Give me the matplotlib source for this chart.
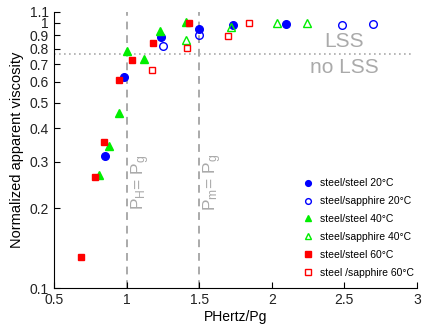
import numpy as np
import matplotlib.pyplot as plt

plt.rcParams['font.family'] = ['Liberation Sans', 'DejaVu Sans']
plt.rcParams['mathtext.default'] = 'regular'

# data (PHertz/Pg, normalized viscosity)
ss20_x = [0.852, 0.985, 1.24, 1.502, 1.73, 2.098]
ss20_y = [0.316, 0.626, 0.883, 0.949, 0.98, 0.994]
sa20_x = [1.254, 1.502, 2.484, 2.696]
sa20_y = [0.819, 0.897, 0.983, 0.988]
ss40_x = [0.812, 0.881, 0.95, 1.001, 1.123, 1.231, 1.41]
ss40_y = [0.267, 0.343, 0.456, 0.784, 0.731, 0.933, 1.006]
sa40_x = [1.41, 1.72, 2.036, 2.24]
sa40_y = [0.862, 0.963, 0.999, 1.0]
ss60_x = [0.684, 0.785, 0.847, 0.95, 1.036, 1.18, 1.431]
ss60_y = [0.131, 0.262, 0.357, 0.608, 0.725, 0.838, 1.0]
sa60_x = [1.176, 1.415, 1.698, 1.845]
sa60_y = [0.663, 0.807, 0.891, 1.0]

yticks = [0.1, 0.2, 0.3, 0.4, 0.5, 0.6, 0.7, 0.8, 0.9, 1, 1.1]
ytick_labels = ['0.1', '0.2', '0.3', '0.4', '0.5', '0.6', '0.7', '0.8', '0.9', '1', '1.1']
xticks = [0.5, 1, 1.5, 2, 2.5, 3]
xtick_labels = ['0.5', '1', '1.5', '2', '2.5', '3']
lss_level = 0.765

fig = plt.figure(figsize=(4.25, 3.29), dpi=100)
ax = fig.add_axes([0.127, 0.1246, 0.854, 0.839])

grey = '#aaaaaa'
ax.axvline(1.0, color=grey, ls=(0, (4, 3)), lw=1.4, zorder=1)
ax.axvline(1.5, color=grey, ls=(0, (4, 3)), lw=1.4, zorder=1)
ax.axhline(lss_level, xmax=0.985, color=grey, ls=(0, (1, 2)), lw=1.2, zorder=1)

ax.plot(ss20_x, ss20_y, 'o', color='blue', ms=5.5, ls='none', label='steel/steel 20°C')
ax.plot(sa20_x, sa20_y, 'o', mfc='none', mec='blue', ms=5.5, ls='none', label='steel/sapphire 20°C')
ax.plot(ss40_x, ss40_y, '^', color='#00ee00', ms=6, ls='none', label='steel/steel 40°C')
ax.plot(sa40_x, sa40_y, '^', mfc='none', mec='#00ee00', ms=6, ls='none', label='steel/sapphire 40°C')
ax.plot(ss60_x, ss60_y, 's', color='red', ms=5, ls='none', label='steel/steel 60°C')
ax.plot(sa60_x, sa60_y, 's', mfc='none', mec='red', ms=5, ls='none', label='steel /sapphire 60°C')

ax.set_yscale('log')
ax.set_xlim(0.5, 3)
ax.set_ylim(0.1, 1.1)
ax.set_yticks(yticks)
ax.set_yticklabels(ytick_labels)
ax.yaxis.set_minor_locator(plt.NullLocator())
ax.set_xticks(xticks)
ax.set_xticklabels(xtick_labels)
ax.tick_params(direction='in', length=4, labelsize=10, colors='black', labelcolor='#222222')
for s in ['top', 'right']:
    ax.spines[s].set_visible(False)

ax.set_xlabel('PHertz/Pg', fontsize=10, labelpad=2)
ax.set_ylabel('Normalized apparent viscosity', fontsize=10.5, labelpad=4)

ax.text(1.095, 0.25, r'P$_H$= P$_g$', rotation=90, color=grey, fontsize=12.5,
        ha='center', va='center')
ax.text(1.595, 0.25, r'P$_m$= P$_g$', rotation=90, color=grey, fontsize=12.5,
        ha='center', va='center')
ax.text(2.5, 0.784, 'LSS', color=grey, fontsize=15, ha='center', va='bottom')
ax.text(2.5, 0.738, 'no LSS', color=grey, fontsize=15, ha='center', va='top')

ax.legend(loc='lower right', bbox_to_anchor=(1.017, 0.004), frameon=False, fontsize=7.5,
          markerscale=0.75, handlelength=1.0, handletextpad=0.6, labelspacing=0.75)

fig.savefig('out.png', dpi=100)
